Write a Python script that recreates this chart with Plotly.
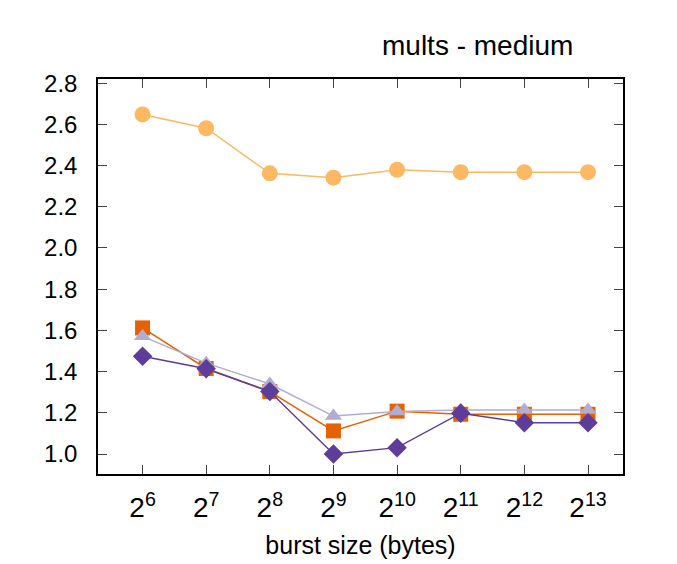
import plotly.graph_objects as go

exponents = [6, 7, 8, 9, 10, 11, 12, 13]
tick_labels = ["2<sup>%d</sup>" % e for e in exponents]
y_ticks = [1.0, 1.2, 1.4, 1.6, 1.8, 2.0, 2.2, 2.4, 2.6, 2.8]

circles = [2.648, 2.581, 2.362, 2.341, 2.379, 2.368, 2.368, 2.368]
squares = [1.612, 1.415, 1.303, 1.112, 1.208, 1.193, 1.193, 1.193]
triangles = [1.571, 1.441, 1.340, 1.184, 1.206, 1.213, 1.213, 1.213]
diamonds = [1.474, 1.414, 1.303, 1.000, 1.031, 1.198, 1.152, 1.152]

FONT = "Liberation Sans, Arial, sans-serif"

fig = go.Figure()
series = [
    (circles, "#fdb863", "circle", 16),
    (squares, "#e66101", "square", 15),
    (triangles, "#b2abd2", "triangle-up", 15),
    (diamonds, "#5e3c99", "diamond", 15),
]
for vals, col, sym, sz in series:
    fig.add_trace(go.Scatter(
        x=exponents, y=vals, mode="lines+markers",
        line=dict(color=col, width=1.5),
        marker=dict(symbol=sym, size=sz, color=col, line=dict(width=0)),
        showlegend=False,
    ))

fig.update_layout(
    width=677, height=564,
    margin=dict(l=90, r=62, t=71, b=98),
    paper_bgcolor="white", plot_bgcolor="white",
    font=dict(family=FONT, size=22, color="black"),
    annotations=[dict(
        text="mults - medium", xref="paper", yref="paper",
        x=0.722, y=1.086, xanchor="center", yanchor="middle",
        showarrow=False, font=dict(size=28, family=FONT, color="black"),
    )],
)
fig.update_xaxes(
    range=[5.3, 13.55], tickvals=exponents, ticktext=tick_labels,
    showgrid=False, zeroline=False, showline=True, linecolor="black", linewidth=1.5,
    mirror="ticks", ticks="inside", ticklen=9, tickcolor="#444", tickwidth=1,
    tickfont=dict(size=28), ticklabelstandoff=8,
    title=dict(text="burst size (bytes)", font=dict(size=25), standoff=14),
)
fig.update_yaxes(
    range=[0.903, 2.82], tickvals=y_ticks, ticktext=["%.1f" % v for v in y_ticks],
    showgrid=False, zeroline=False, showline=True, linecolor="black", linewidth=1.5,
    mirror="ticks", ticks="inside", ticklen=9, tickcolor="#444", tickwidth=1,
    tickfont=dict(size=24), ticklabelstandoff=14,
)
fig.write_html("out.html")
